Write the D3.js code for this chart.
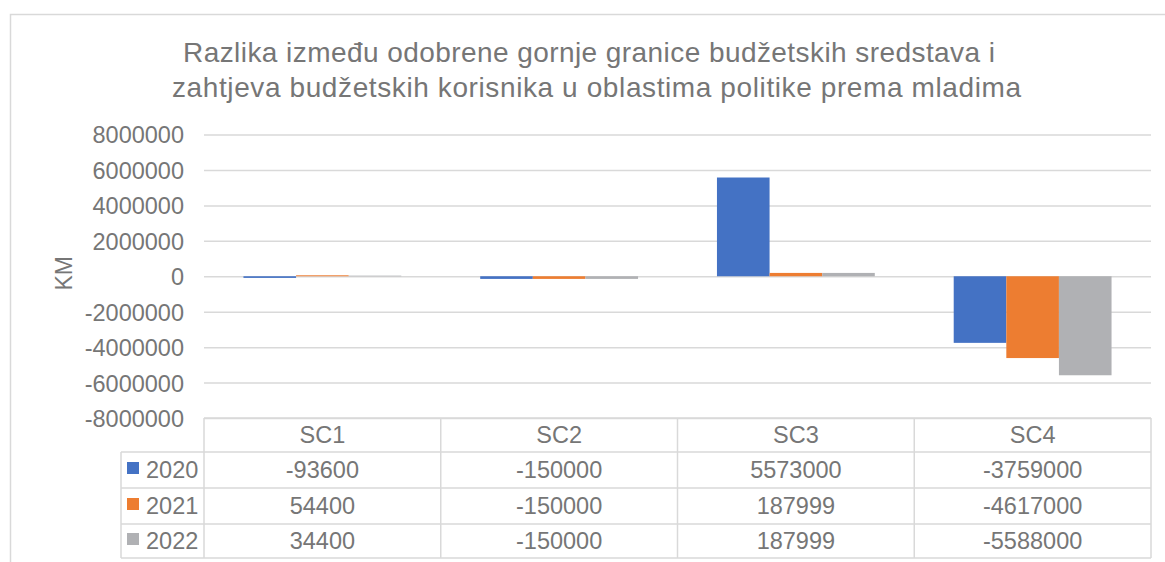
<!DOCTYPE html>
<html>
<head>
<meta charset="utf-8">
<script src="https://cdn.jsdelivr.net/npm/d3@7/dist/d3.min.js"></script>
<style>
  html, body { margin: 0; padding: 0; background: #fff; }
  svg { display: block; font-family: "Liberation Sans", Arial, sans-serif; }
</style>
</head>
<body>
<svg id="chart" width="1165" height="562"></svg>
<script>
// Budget-ceiling vs. request differences per youth-policy area (KM)
const categories = ["SC1", "SC2", "SC3", "SC4"];
const seriesNames = ["2020", "2021", "2022"];
const values2020 = [-93600, -150000, 5573000, -3759000];
const values2021 = [54400, -150000, 187999, -4617000];
const values2022 = [34400, -150000, 187999, -5588000];
const yTicks = [8000000, 6000000, 4000000, 2000000, 0, -2000000, -4000000, -6000000, -8000000];
const titleLines = [
  "Razlika između odobrene gornje granice budžetskih sredstava i",
  "zahtjeva budžetskih korisnika u oblastima politike prema mladima"
];
const yLabel = "KM";

const seriesValues = [values2020, values2021, values2022];
const colors = ["#4472C4", "#ED7D31", "#B0B1B4"];
const textColor = "#767676";
const lineColor = "#D9D9D9";

const svg = d3.select("#chart");

// outer chart frame
svg.append("rect")
  .attr("x", 10.5).attr("y", 14.5)
  .attr("width", 1170).attr("height", 560)
  .attr("fill", "#fff")
  .attr("stroke", lineColor).attr("stroke-width", 1.5);

const plot = { left: 204, right: 1151, top: 134.5, bottom: 418 };

const x = d3.scaleBand().domain(categories).range([plot.left, plot.right]).paddingInner(0).paddingOuter(0);
const y = d3.scaleLinear().domain([-8000000, 8000000]).range([plot.bottom, plot.top]);
// Each group holds 3 bars with a gap of 1.5 bar widths
const barW = x.bandwidth() / 4.5;
const xs = d3.scaleBand().domain(seriesNames).range([barW * 0.75, barW * 3.75]).padding(0);

// title (two centred lines, spread to the chart's title width)
const titleLayout = [{ x: 183, y: 62, w: 812 }, { x: 172, y: 97, w: 849 }];
svg.selectAll("text.title").data(titleLines).join("text")
  .attr("class", "title")
  .attr("x", (d, i) => titleLayout[i].x)
  .attr("y", (d, i) => titleLayout[i].y)
  .attr("textLength", (d, i) => titleLayout[i].w)
  .attr("lengthAdjust", "spacing")
  .attr("fill", textColor)
  .attr("font-size", 28)
  .text(d => d);

// gridlines + y axis
const yAxis = d3.axisLeft(y).tickValues(yTicks).tickSize(-(plot.right - plot.left)).tickPadding(20)
  .tickFormat(d => String(d));
const gy = svg.append("g").attr("transform", `translate(${plot.left},0)`).call(yAxis);
gy.select(".domain").remove();
gy.selectAll(".tick line").attr("stroke", lineColor).attr("stroke-width", 1.5);
gy.selectAll(".tick text")
  .attr("fill", textColor)
  .attr("font-size", 23.5)
  .attr("font-family", "Liberation Sans, Arial, sans-serif")
  .attr("dy", "0.36em");

// y axis title
svg.append("text")
  .attr("transform", `translate(72,${(y(0) - 3)}) rotate(-90)`)
  .attr("text-anchor", "middle")
  .attr("fill", textColor)
  .attr("font-size", 23)
  .text(yLabel);

// bars
const groups = svg.append("g").selectAll("g")
  .data(categories)
  .join("g")
  .attr("transform", d => `translate(${x(d)},0)`);

groups.selectAll("rect")
  .data((c, ci) => seriesNames.map((s, si) => ({ s, si, v: seriesValues[si][ci] })))
  .join("rect")
  .attr("x", d => xs(d.s))
  .attr("width", xs.bandwidth())
  .attr("y", d => Math.min(y(d.v), y(0)))
  .attr("height", d => Math.abs(y(d.v) - y(0)))
  .attr("fill", d => colors[d.si]);

// data table
const tableTop = plot.bottom;
const legendLeft = 121;
const rowTops = [452, 488, 524, 558];
const table = svg.append("g");

// horizontal lines
const hLines = [{ y: tableTop, x1: plot.left }].concat(rowTops.map(r => ({ y: r, x1: legendLeft })));
table.selectAll("line.h").data(hLines).join("line")
  .attr("class", "h")
  .attr("x1", d => d.x1).attr("x2", plot.right)
  .attr("y1", d => d.y).attr("y2", d => d.y)
  .attr("stroke", lineColor).attr("stroke-width", 1.5);

// vertical lines
const vxs = categories.map(c => x(c)).concat([plot.right]);
table.selectAll("line.v").data(vxs).join("line")
  .attr("class", "v")
  .attr("x1", d => d).attr("x2", d => d)
  .attr("y1", tableTop).attr("y2", rowTops[3])
  .attr("stroke", lineColor).attr("stroke-width", 1.5);
table.append("line")
  .attr("x1", legendLeft).attr("x2", legendLeft)
  .attr("y1", rowTops[0]).attr("y2", rowTops[3])
  .attr("stroke", lineColor).attr("stroke-width", 1.5);

// category header
table.selectAll("text.cat").data(categories).join("text")
  .attr("class", "cat")
  .attr("x", d => x(d) + x.bandwidth() / 2)
  .attr("y", (tableTop + rowTops[0]) / 2)
  .attr("dy", "0.36em")
  .attr("text-anchor", "middle")
  .attr("fill", textColor)
  .attr("font-size", 23.5)
  .text(d => d);

// series rows
seriesNames.forEach((s, si) => {
  const top = rowTops[si], bottom = rowTops[si + 1];
  const cy = (top + bottom) / 2;
  table.append("rect")
    .attr("x", 127).attr("y", cy - 8)
    .attr("width", 12).attr("height", 12)
    .attr("fill", colors[si]);
  table.append("text")
    .attr("x", 146).attr("y", cy).attr("dy", "0.36em")
    .attr("fill", textColor).attr("font-size", 23.5)
    .text(s);
  table.selectAll(null).data(seriesValues[si]).join("text")
    .attr("x", (d, ci) => x(categories[ci]) + x.bandwidth() / 2)
    .attr("y", cy).attr("dy", "0.36em")
    .attr("text-anchor", "middle")
    .attr("fill", textColor).attr("font-size", 23.5)
    .text(d => String(d));
});
</script>
</body>
</html>
